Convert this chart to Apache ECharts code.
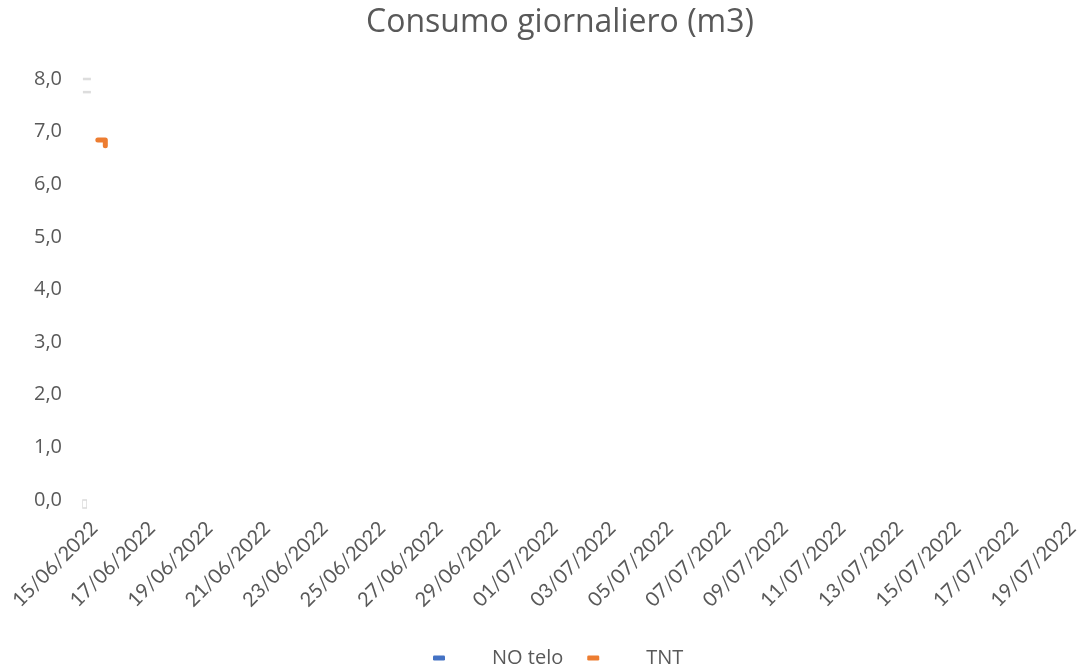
<!DOCTYPE html>
<html>
<head>
<meta charset="utf-8">
<script src="https://cdn.jsdelivr.net/npm/echarts@6/dist/echarts.min.js"></script>
<style>
html,body{margin:0;padding:0;background:#fff;}
#chart{width:1087px;height:671px;}
</style>
</head>
<body>
<div id="chart"></div>
<script>
// Tick labels (x: every 2 days from 15/06/2022, as day offsets)
const dateLabels = ['15/06/2022','17/06/2022','19/06/2022','21/06/2022','23/06/2022','25/06/2022',
  '27/06/2022','29/06/2022','01/07/2022','03/07/2022','05/07/2022','07/07/2022','09/07/2022',
  '11/07/2022','13/07/2022','15/07/2022','17/07/2022','19/07/2022'];
const labelDays = [0,2,4,6,8,10,12,14,16,18,20,22,24,26,28,30,32,34];
const yTicks = [0,1,2,3,4,5,6,7,8];

// Series values (x = days since 15/06/2022)
const noTeloDays = [];
const noTeloValues = [];
const tntDays = [0.12, 0.38, 0.38];
const tntValues = [6.84, 6.84, 6.73];
// faint grey marks at the left edge (no legend entry)
const greyDays = [-0.26, -0.26];
const greyValues = [8.0, 7.75];
const greyBaseDays = [-0.34];
const greyBaseValues = [0.0];

const zip = (a, b) => a.map((v, i) => [v, b[i]]);

const chart = echarts.init(document.getElementById('chart'), null, {renderer: 'canvas'});
const txt = '#595959';
const font = 'Lato, "Open Sans", sans-serif';
const font2 = '"Open Sans", Lato, sans-serif';

chart.setOption({
  animation: false,
  backgroundColor: '#ffffff',
  textStyle: {fontFamily: font},
  title: {
    text: 'Consumo giornaliero (m3)',
    left: 555,
    textAlign: 'center',
    top: 2,
    textStyle: {color: txt, fontSize: 32, fontWeight: 'normal', fontFamily: font2}
  },
  legend: {
    data: ['NO telo', 'TNT'],
    left: 433,
    top: 648,
    padding: 0,
    icon: 'roundRect',
    itemWidth: 12,
    itemHeight: 5,
    itemGap: 24,
    textStyle: {color: txt, fontSize: 20, fontFamily: font2, padding: [0, 0, 0, 42]}
  },
  grid: {left: 80, right: 0, top: 79, bottom: 171, containLabel: false, outerBoundsMode: 'none'},
  xAxis: {
    type: 'value',
    min: -0.5,
    max: 34.5,
    splitLine: {show: false},
    axisLine: {show: false},
    axisTick: {show: false},
    axisLabel: {
      customValues: labelDays,
      rotate: 45,
      margin: 25,
      color: txt,
      fontSize: 20,
      fontFamily: font,
      formatter: v => dateLabels[labelDays.indexOf(Math.round(v))] || ''
    }
  },
  yAxis: {
    type: 'value',
    min: yTicks[0],
    max: yTicks[yTicks.length - 1],
    interval: 1,
    splitLine: {show: false},
    axisLine: {show: false},
    axisTick: {show: false},
    axisLabel: {
      color: txt,
      fontSize: 20,
      fontFamily: font2,
      margin: 18,
      formatter: v => v.toFixed(1).replace('.', ',')
    }
  },
  series: [
    {
      name: 'NO telo', type: 'line', data: zip(noTeloDays, noTeloValues),
      itemStyle: {color: '#4472C4'}, lineStyle: {color: '#4472C4', width: 4}, showSymbol: false
    },
    {
      name: 'TNT', type: 'line', data: zip(tntDays, tntValues),
      itemStyle: {color: '#ED7D31'},
      lineStyle: {color: '#ED7D31', width: 5, cap: 'round', join: 'round'},
      showSymbol: false
    },
    {
      name: 'grey', type: 'scatter', data: zip(greyDays, greyValues),
      symbol: 'rect', symbolSize: [8, 2.5], itemStyle: {color: '#D4D4D4'}, silent: true
    },
    {
      name: 'greyBase', type: 'scatter', data: zip(greyBaseDays, greyBaseValues),
      symbol: 'rect', symbolSize: [4, 8], symbolOffset: [0, 4],
      itemStyle: {color: 'rgba(0,0,0,0)', borderColor: '#CFCFCF', borderWidth: 1}, silent: true
    }
  ]
});
</script>
</body>
</html>
